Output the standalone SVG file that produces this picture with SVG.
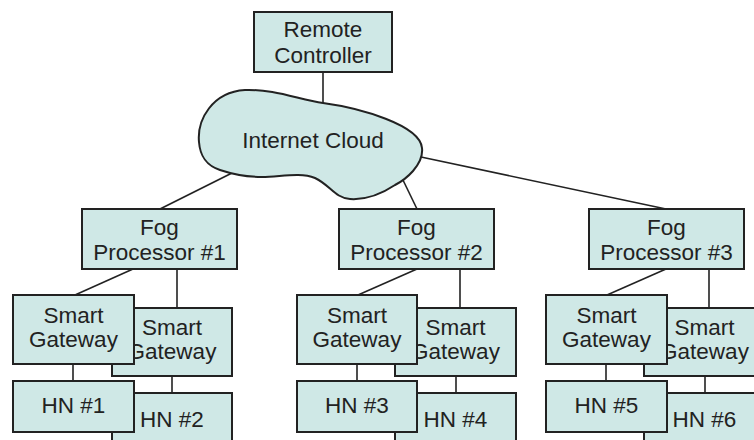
<svg xmlns="http://www.w3.org/2000/svg" width="754" height="440" viewBox="0 0 754 440">
<style>
.n{fill:#cfe8e6;stroke:#222;stroke-width:2}
.c line{stroke:#222;stroke-width:1.6}
text{font-family:"Liberation Sans",Arial,sans-serif;font-size:22.5px;fill:#222;text-anchor:middle}
</style>
<rect width="754" height="440" fill="#fff"/>
<g id="connectors" class="c">
<line x1="323" y1="72" x2="323" y2="104"/>
<line x1="232" y1="173" x2="160" y2="209"/>
<line x1="402" y1="178" x2="417" y2="209"/>
<line x1="421" y1="157" x2="666" y2="209"/>
<line x1="133" y1="269" x2="75" y2="295"/>
<line x1="177" y1="269" x2="177" y2="308"/>
<line x1="417" y1="269" x2="358" y2="295"/>
<line x1="460" y1="269" x2="460" y2="308"/>
<line x1="666" y1="269" x2="607" y2="295"/>
<line x1="709" y1="269" x2="709" y2="308"/>
<line x1="73" y1="364" x2="73" y2="381"/>
<line x1="172" y1="376" x2="172" y2="393"/>
<line x1="357" y1="364" x2="357" y2="381"/>
<line x1="456" y1="376" x2="456" y2="393"/>
<line x1="606" y1="364" x2="606" y2="381"/>
<line x1="705" y1="376" x2="705" y2="393"/>
</g>
<g id="remote"><rect class="n" x="254" y="12" width="138" height="60"/><text x="323" y="37">Remote</text><text x="323" y="63">Controller</text></g>
<g id="cloud"><path class="n" d="M199,142 C197,120 212,92 245,90 C275,89 300,100 323,103 C360,108 420,125 422,148 C424,165 405,180 395,185 C380,195 365,200 350,199 C335,198 330,185 315,178 C300,172 280,177 262,177 C245,177 232,174 220,170 C205,165 200,155 199,142 Z"/><text x="313" y="148">Internet Cloud</text></g>
<g id="fog1"><rect class="n" x="82" y="209" width="155" height="60"/><text x="159.5" y="235">Fog</text><text x="159.5" y="260">Processor #1</text></g>
<g id="fog2"><rect class="n" x="339" y="209" width="155" height="60"/><text x="416.5" y="235">Fog</text><text x="416.5" y="260">Processor #2</text></g>
<g id="fog3"><rect class="n" x="589" y="209" width="155" height="60"/><text x="666.5" y="235">Fog</text><text x="666.5" y="260">Processor #3</text></g>
<g id="sg1b"><rect class="n" x="112" y="308" width="120" height="68"/><text x="172" y="335">Smart</text><text x="172" y="359">Gateway</text></g>
<g id="sg2b"><rect class="n" x="395" y="308" width="121" height="68"/><text x="455.5" y="335">Smart</text><text x="455.5" y="359">Gateway</text></g>
<g id="sg3b"><rect class="n" x="644" y="308" width="121" height="68"/><text x="704.5" y="335">Smart</text><text x="704.5" y="359">Gateway</text></g>
<g id="sg1a"><rect class="n" x="13" y="295" width="121" height="69"/><text x="73.5" y="323">Smart</text><text x="73.5" y="347">Gateway</text></g>
<g id="sg2a"><rect class="n" x="297" y="295" width="120" height="69"/><text x="357" y="323">Smart</text><text x="357" y="347">Gateway</text></g>
<g id="sg3a"><rect class="n" x="546" y="295" width="121" height="69"/><text x="606.5" y="323">Smart</text><text x="606.5" y="347">Gateway</text></g>
<g id="hn2"><rect class="n" x="112" y="393" width="120" height="60"/><text x="172" y="427">HN #2</text></g>
<g id="hn4"><rect class="n" x="395" y="393" width="121" height="60"/><text x="455.5" y="427">HN #4</text></g>
<g id="hn6"><rect class="n" x="644" y="393" width="121" height="60"/><text x="704.5" y="427">HN #6</text></g>
<g id="hn1"><rect class="n" x="13" y="381" width="121" height="51"/><text x="73.5" y="413">HN #1</text></g>
<g id="hn3"><rect class="n" x="297" y="381" width="120" height="51"/><text x="357" y="413">HN #3</text></g>
<g id="hn5"><rect class="n" x="546" y="381" width="121" height="51"/><text x="606.5" y="413">HN #5</text></g>
</svg>
